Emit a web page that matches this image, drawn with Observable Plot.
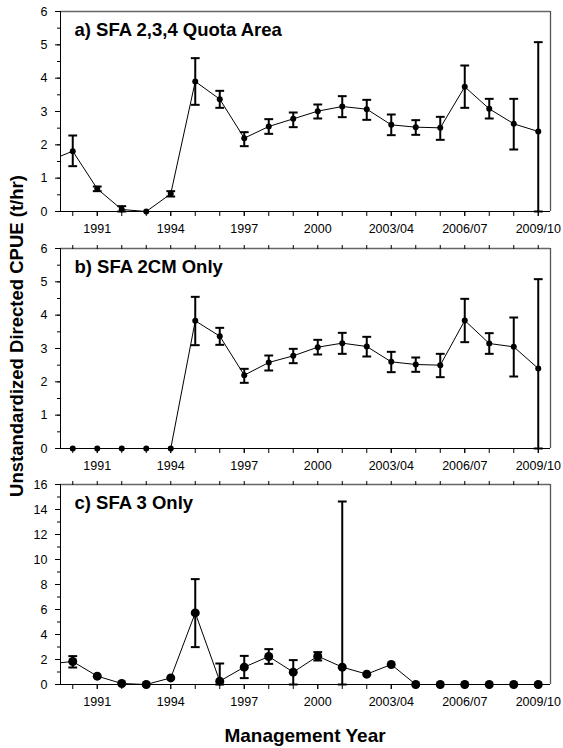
<!DOCTYPE html>
<html><head><meta charset="utf-8">
<script src="https://cdn.jsdelivr.net/npm/d3@7"></script>
<script src="https://cdn.jsdelivr.net/npm/@observablehq/plot@0.6"></script>
<style>
body{margin:0;background:#fff;}
#wrap{position:relative;width:563px;height:748px;font-family:"Liberation Sans",Arial,sans-serif;color:#000;}
.panel{position:absolute;left:0;}
#ytitle{position:absolute;left:17px;top:336px;transform:translate(-50%,-50%) rotate(-90deg);white-space:nowrap;font-weight:bold;font-size:18.5px;}
#xtitle{position:absolute;left:305px;top:736px;transform:translate(-50%,-50%);font-weight:bold;font-size:19px;white-space:nowrap;}
</style></head><body>
<div id="wrap"><div id="ytitle">Unstandardized Directed CPUE (t/hr)</div><div id="xtitle">Management Year</div></div>
<script>
// Management years (1989 is the off-frame lead-in point of the line)
const years = [1989,1990,1991,1992,1993,1994,1995,1996,1997,1998,1999,2000,2001,2002,2003,2004,2005,2006,2007,2008,2009];
const tickYears = [1991,1994,1997,2000,2003,2006,2009];
const tickLabels = ["1991","1994","1997","2000","2003/04","2006/07","2009/10"];
const panelTitles = ["a) SFA 2,3,4 Quota Area","b) SFA 2CM Only","c) SFA 3 Only"];

// a) SFA 2,3,4 Quota Area
const cpueA  = [1.51,1.81,0.68,0.06,0.00,0.53,3.90,3.37,2.20,2.55,2.78,3.01,3.15,3.07,2.60,2.53,2.51,3.74,3.08,2.63,2.40];
const upperA = [null,2.28,0.75,0.16,null,0.61,4.60,3.62,2.38,2.77,2.97,3.21,3.46,3.35,2.91,2.74,2.84,4.38,3.38,3.38,5.08];
const lowerA = [null,1.36,0.61,0.00,null,0.45,3.20,3.11,1.96,2.33,2.53,2.79,2.83,2.75,2.29,2.30,2.15,3.11,2.79,1.86,0.00];

// b) SFA 2CM Only
const cpueB  = [0,0,0,0,0,0,3.83,3.37,2.20,2.58,2.78,3.04,3.16,3.06,2.60,2.52,2.50,3.84,3.15,3.05,2.40];
const upperB = [null,null,null,null,null,null,4.55,3.62,2.39,2.79,2.99,3.26,3.47,3.35,2.90,2.73,2.84,4.49,3.46,3.93,5.08];
const lowerB = [null,null,null,null,null,null,3.10,3.11,1.97,2.34,2.56,2.82,2.84,2.76,2.29,2.30,2.14,3.19,2.84,2.16,0.00];

// c) SFA 3 Only
const cpueC  = [1.64,1.84,0.67,0.08,0.00,0.53,5.73,0.27,1.39,2.24,0.99,2.27,1.39,0.83,1.60,0,0,0,0,0,0];
const upperC = [null,2.27,null,null,null,null,8.43,1.68,2.29,2.83,1.95,2.59,14.64,null,null,null,null,null,null,null,null];
const lowerC = [null,1.36,null,null,null,null,2.99,0.00,0.51,1.65,0.00,1.92,0.00,null,null,null,null,null,null,null,null];

const yMaxes = [6,6,16];
const yMajor = [1,1,2];
const yMinor = [0.5,0.5,1];
const dotR = [3,3,4.5];
const tops = [0,237,473];

function panel(i, vals, up, lo, topTicks) {
  const data = years.map((y,k)=>({year:y, v:vals[k], hi:up[k], lo:lo[k]}));
  const shown = data.filter(d=>d.year>=1990);
  const err = data.filter(d=>d.hi!=null);
  const yMax = yMaxes[i];
  const cap = 0.18;
  const allYears = years.filter(y=>y>=1990);
  const marks = [
    Plot.axisY({ticks: d3.range(0, yMax+1e-9, yMajor[i]), tickSize:5, tickPadding:8, tickFormat:d=>String(d), label:null}),
    Plot.axisY({ticks: d3.range(0, yMax+1e-9, yMinor[i]), tickSize:3, text:null, label:null}),
    Plot.axisX({ticks: tickYears, tickSize:5, tickPadding:8, tickFormat: d=>tickLabels[tickYears.indexOf(d)], label:null}),
    Plot.axisX({ticks: allYears, tickSize:5, text:null, label:null}),
    Plot.ruleY([yMax], {stroke:"#666", strokeWidth:1.3}),
    Plot.ruleX([2009.5], {stroke:"#555", strokeWidth:1.3}),
    Plot.line(data, {x:"year", y:"v", stroke:"#000", strokeWidth:1, clip:true}),
    Plot.ruleX(err, {x:"year", y1:"lo", y2:"hi", stroke:"#000", strokeWidth:2}),
    Plot.link(err, {x1:d=>d.year-cap, x2:d=>d.year+cap, y1:"hi", y2:"hi", stroke:"#000", strokeWidth:2}),
    Plot.link(err, {x1:d=>d.year-cap, x2:d=>d.year+cap, y1:"lo", y2:"lo", stroke:"#000", strokeWidth:2}),
    Plot.dot(shown, {x:"year", y:"v", r:dotR[i], fill:"#000", stroke:"none"}),
    Plot.ruleY([0], {stroke:"#000", strokeWidth:1}),
    Plot.ruleX([1989.5], {stroke:"#000", strokeWidth:1}),
    Plot.text([panelTitles[i]], {frameAnchor:"top-left", dx:14, dy:11, fontSize:18.5, fontWeight:"bold", textAnchor:"start", lineAnchor:"top"})
  ];
  if (topTicks) marks.push(Plot.axisX({anchor:"top", ticks: allYears, tickSize:4, text:null, label:null}));
  const svg = Plot.plot({
    width:563, height:236,
    marginLeft:60, marginRight:13, marginTop:11, marginBottom:25,
    style:{fontFamily:"Liberation Sans, Arial, sans-serif", fontSize:"12.5px", background:"transparent", color:"#000"},
    x:{domain:[1989.5,2009.5], axis:null},
    y:{domain:[0,yMax], axis:null},
    marks
  });
  svg.classList.add("panel");
  svg.style.top = tops[i] + "px";
  svg.style.position = "absolute";
  svg.style.overflow = "visible";
  document.getElementById("wrap").appendChild(svg);
}
panel(0, cpueA, upperA, lowerA, false);
panel(1, cpueB, upperB, lowerB, true);
panel(2, cpueC, upperC, lowerC, true);
</script>
</body></html>
